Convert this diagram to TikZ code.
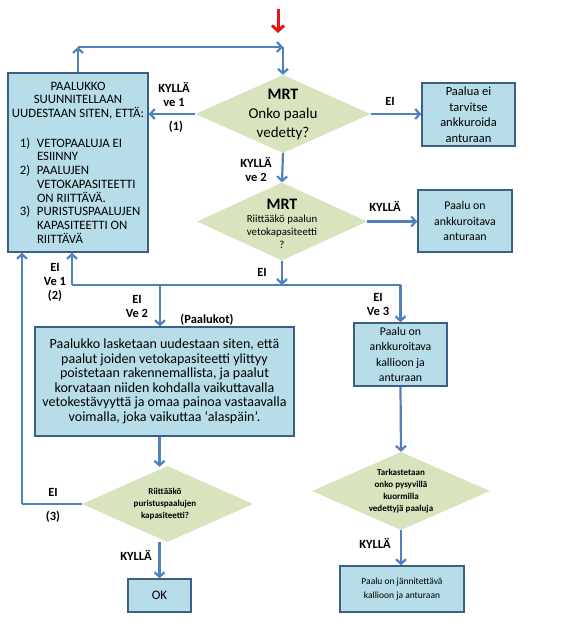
\documentclass[tikz,border=0pt]{standalone}
\usepackage{fontspec}
\setmainfont{Carlito}
\usetikzlibrary{arrows.meta,shapes.geometric,calc}
\definecolor{boxfill}{HTML}{B7DDE8}
\definecolor{boxline}{HTML}{3B5F86}
\definecolor{dfill}{HTML}{D7E4BD}
\definecolor{arrc}{HTML}{4F81BD}
\definecolor{redarr}{HTML}{E8141B}
\tikzset{
  bluebox/.style={draw=boxline, line width=1.6pt, fill=boxfill, inner sep=0pt, align=center},
  dshape/.style={diamond, fill=dfill, draw=none, inner sep=0pt},
  dtext/.style={align=center, inner sep=0pt},
  arr/.style={draw=arrc, line width=2.2pt, -{Straight Barb[length=4.5pt,width=10pt,line width=2.2pt]}},
  ln/.style={draw=arrc, line width=2.2pt},
  lab/.style={font=\fontsize{12.5}{15}\selectfont\bfseries, inner sep=0pt, align=center},
}
\begin{document}
\begin{tikzpicture}[x=1pt,y=-1pt]
\useasboundingbox[fill=white] (0,0) rectangle (571,624);

% left box
\node[bluebox, minimum width=140pt, minimum height=179pt] (L) at (78,162.5) {%
\parbox{140pt}{\fontsize{12.8}{13.7}\selectfont\centering PAALUKKO\\SUUNNITELLAAN\\UUDESTAAN SITEN, ETTÄ:\par\vspace{16pt}%
\raggedright
\hspace*{12pt}\makebox[17pt][l]{1)}VETOPAALUJA EI\\
\hspace*{29pt}ESIINNY\\
\hspace*{12pt}\makebox[17pt][l]{2)}PAALUJEN\\
\hspace*{29pt}VETOKAPASITEETTI\\
\hspace*{29pt}ON RIITTÄVÄ.\\
\hspace*{12pt}\makebox[17pt][l]{3)}PURISTUSPAALUJEN\\
\hspace*{29pt}KAPASITEETTI ON\\
\hspace*{29pt}RIITTÄVÄ\par}};

% diamonds
\node[dshape, minimum width=175pt, minimum height=78pt] (D1) at (283,114) {};
\node[dtext] (D1t) at (283,115) {\parbox{100pt}{\centering{\fontsize{16}{20}\selectfont\bfseries MRT\par}\fontsize{15}{19}\selectfont Onko paalu\\vedetty?\par}};

\node[dshape, minimum width=170pt, minimum height=78pt] (D2) at (282,221.5) {};
\node[dtext] (D2t) at (282,224) {\parbox{100pt}{\centering{\fontsize{16}{18}\selectfont\bfseries MRT\par}\fontsize{10.8}{13}\selectfont Riittääkö paalun\\vetokapasiteetti\\?\par}};

\node[dshape, minimum width=171pt, minimum height=76pt] (D3) at (167.5,504) {};
\node[dtext, font=\fontsize{9}{12}\selectfont\bfseries] (D3t) at (165,504) {Riittääkö\\puristuspaalujen\\kapasiteetti?};

\node[dshape, minimum width=178pt, minimum height=78pt] (D4) at (401,491) {};
\node[dtext, font=\fontsize{9}{12}\selectfont\bfseries] (D4t) at (401,491) {Tarkastetaan\\onko pysyvillä\\kuormilla\\vedettyjä paaluja};

% boxes
\node[bluebox, minimum width=93pt, minimum height=63pt, font=\fontsize{12.5}{15.5}\selectfont] (B1) at (468.5,114.5) {Paalua ei\\tarvitse\\ankkuroida\\anturaan};
\node[bluebox, minimum width=94pt, minimum height=62pt, font=\fontsize{11.8}{15.5}\selectfont] (B2) at (465,221) {Paalu on\\ankkuroitava\\anturaan};
\node[bluebox, minimum width=93pt, minimum height=63pt, font=\fontsize{11.8}{15.5}\selectfont] (B3) at (400.5,354.5) {Paalu on\\ankkuroitava\\kallioon ja\\anturaan};
\node[bluebox, minimum width=124pt, minimum height=46pt, font=\fontsize{9.5}{14}\selectfont] (B4) at (402,589) {Paalu on jännitettävä\\kallioon ja anturaan};
\node[bluebox, minimum width=259pt, minimum height=109pt, font=\fontsize{14}{14.5}\selectfont] (P) at (164.5,381.5) {Paalukko lasketaan uudestaan siten, että\\paalut joiden vetokapasiteetti ylittyy\\poistetaan rakennemallista, ja paalut\\korvataan niiden kohdalla vaikuttavalla\\vetokestävyyttä ja omaa painoa vastaavalla\\voimalla, joka vaikuttaa ‘alaspäin’.};
\node[bluebox, minimum width=63pt, minimum height=33pt, font=\fontsize{13}{15}\selectfont] (OK) at (159.5,595.5) {OK};

% coordinates
\coordinate (R1) at (278,9);
\coordinate (R2) at (278,33);
\coordinate (TL) at (78,47);
\coordinate (TR) at (283,47);
\coordinate (JL) at (72,285);
\coordinate (JM) at (160,285);
\coordinate (JR) at (400.5,285);
\coordinate (JC) at (282,285);
\coordinate (C3) at (22,504);

% connectors
\draw[draw=redarr, line width=3pt, -{Straight Barb[length=5.5pt,width=12pt,line width=3pt]}] (R1) -- (R2);
\draw[arr] (L.north) -- (TL);
\draw[arr] (TL) -- (TR);
\draw[arr] (TR) -- (D1.north);
\draw[arr] (D1.west) -- (D1.west -| L.east);
\draw[arr] (D1.east) -- (D1.east -| B1.west);
\draw[arr] (D1.south) -- (D2.north);
\draw[arr] (D2.east) -- (D2.east -| B2.west);
\draw[arr] (D2.south) -- (JC);
\draw[ln] (JL) -- (JR);
\draw[arr] (JL) -- (JL |- L.south);
\draw[arr] (JR) -- (B3.north);
\draw[arr] (JM) -- (JM |- P.north);
\draw[arr] (P.south -| OK.north) -- ($(D3.north -| OK.north)+(0,1)$);
\draw[ln] (D3.west) -- (C3);
\draw[arr] (C3) -- (C3 |- L.south);
\draw[arr] (D3.south -| OK.north) -- (OK.north);
\draw[arr] (B3.south) -- (D4.north);
\draw[arr] (D4.south) -- (D4.south |- B4.north);

% labels
\node[lab] (l1) at (174,94) {KYLLÄ\\[-1pt]ve 1};
\node[lab] (l1b) at (176,127) {(1)};
\node[lab] (l2) at (390,101) {EI};
\node[lab] (l3) at (256,169) {KYLLÄ\\[-1pt]ve 2};
\node[lab] (l4) at (385,206) {KYLLÄ};
\node[lab] (l5) at (262,272) {EI};
\node[lab] (l6) at (55,282) {EI\\[-1pt]Ve 1\\[-1pt](2)};
\node[lab] (l7) at (137,306) {EI\\[-1pt]Ve 2};
\node[lab] (l8) at (207,320) {(Paalukot)};
\node[lab] (l9) at (378,304) {EI\\[-1pt]Ve 3};
\node[lab] (l10) at (53,492) {EI};
\node[lab] (l11) at (53,517) {(3)};
\node[lab] (l12) at (136,555) {KYLLÄ};
\node[lab] (l13) at (375,543) {KYLLÄ};
\end{tikzpicture}
\end{document}
